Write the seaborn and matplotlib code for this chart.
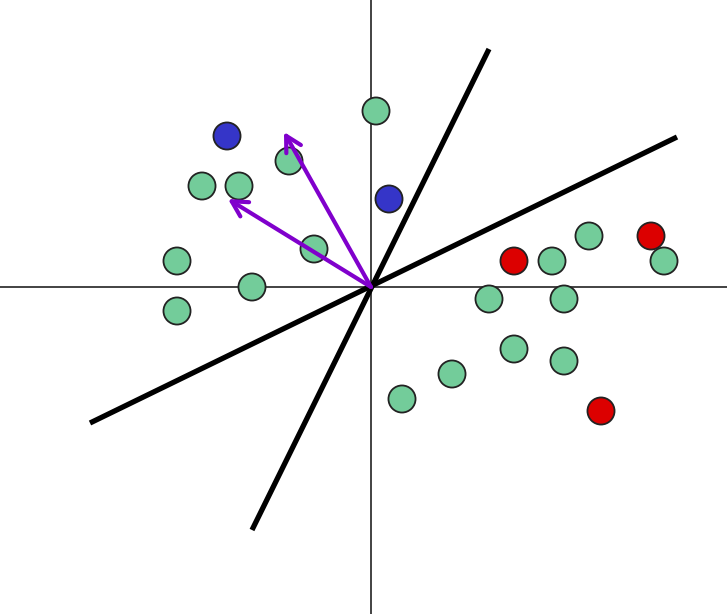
import numpy as np
import pandas as pd
import matplotlib
matplotlib.use("Agg")
import matplotlib.pyplot as plt
import seaborn as sns

# points (grid units, origin at the axes crossing)
green_x = [0.2, -3.28, -6.76, -5.28, -2.28, -7.76, -4.76, -7.76, 7.24, 8.72, 11.72, 4.72, 7.72, 5.72, 7.72, 3.24, 1.24]
green_y = [7.04, 5.04, 4.04, 4.04, 1.52, 1.04, 0.0, -0.96, 1.04, 2.04, 1.04, -0.48, -0.48, -2.48, -2.96, -3.48, -4.48]
blue_x = [-5.76, 0.72]
blue_y = [6.04, 3.52]
red_x = [5.72, 11.2, 9.2]
red_y = [1.04, 2.04, -4.96]

# thick lines through origin (end points)
line_x = [[-4.76, 4.72], [-11.24, 12.24]]
line_y = [[-9.72, 9.52], [-5.44, 6.0]]

# arrow tips
arrow_x = [-3.48, -5.72]
arrow_y = [6.2, 3.52]

df = pd.DataFrame({
    "x": green_x + blue_x + red_x,
    "y": green_y + blue_y + red_y,
    "group": ["green"] * len(green_x) + ["blue"] * len(blue_x) + ["red"] * len(red_x),
})
palette = {"green": "#73cc9a", "blue": "#3535c8", "red": "#dc0000"}

sns.set_style("white")
fig = plt.figure(figsize=(7.27, 6.14), dpi=100)
ax = fig.add_axes([0, 0, 1, 1])

ax.axhline(0, color="#222222", lw=1.2, zorder=1)
ax.axvline(0, color="#222222", lw=1.2, zorder=1)

sns.scatterplot(data=df, x="x", y="y", hue="group", palette=palette, s=380,
                edgecolor="#222222", linewidth=1.3, legend=False, ax=ax, zorder=3)

for lx, ly in zip(line_x, line_y):
    ax.plot(lx, ly, color="black", lw=3.8, solid_capstyle="butt", zorder=4)

for tx, ty in zip(arrow_x, arrow_y):
    ax.annotate("", xy=(tx, ty), xytext=(0, 0),
                arrowprops=dict(arrowstyle="->,head_length=0.55,head_width=0.3",
                                color="#8000cc", lw=3.0, mutation_scale=20,
                                shrinkA=0, shrinkB=0), zorder=5)

ax.set_xlim(-14.84, 14.24)
ax.set_ylim(-13.08, 11.48)
ax.set_axis_off()

fig.savefig("out.png", dpi=100)
